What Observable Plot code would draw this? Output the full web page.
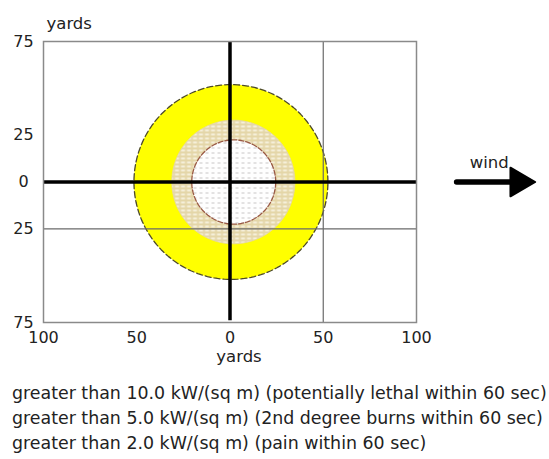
<!DOCTYPE html>
<html>
<head>
<meta charset="utf-8">
<script src="https://cdn.jsdelivr.net/npm/d3@7"></script>
<script src="https://cdn.jsdelivr.net/npm/@observablehq/plot@0.6"></script>
<style>
  html, body { margin: 0; padding: 0; background: #fff; }
  #chart svg { display: block; }
  #legend { font-family: "DejaVu Sans", sans-serif; font-size: 17.4px; color: #222; padding-left: 12px; margin-top: 9px; line-height: 25px; white-space: nowrap; }
</style>
</head>
<body>
<svg width="0" height="0" style="position:absolute">
  <defs>
    <pattern id="tanHatch" patternUnits="userSpaceOnUse" width="6" height="4">
      <rect width="6" height="4" fill="#e4d6a8"></rect>
      <rect x="0.5" y="1.3" width="4" height="1.3" fill="#fffdf5"></rect>
    </pattern>
    <pattern id="innerDots" patternUnits="userSpaceOnUse" width="6" height="5">
      <rect width="6" height="5" fill="#fefefe"></rect>
      <rect x="1" y="2" width="3" height="0.9" fill="#c2c0c0"></rect>
    </pattern>
  </defs>
</svg>
<div id="chart"></div>
<div id="legend"></div>
<script>
// ---- data ----
const zoneNames = ["pain", "burns", "lethal"];          // outer -> inner
const zoneCenterX = [0.5, 1.8, 2];                      // yards (downwind)
const zoneCenterY = [0, 0, 0];                          // yards (crosswind)
const zoneRadius = [52, 33, 22.5];                      // yards
const zoneFill = ["#ffff00", "url(#tanHatch)", "url(#innerDots)"];
const zoneStroke = ["#4d4a2a", "#e4d6a8", "#9a5a45"];
const zoneDash = ["6,3", null, "5,2"];

const xTicks = [-100, -50, 0, 50, 100];
const yTicks = [75, 25, 0, -25, -75];
const gridX = [50];
const gridY = [-25];
const axisX0 = [0];
const axisY0 = [0];

const windLabel = ["wind"];
const windLine = [{x1: 121.5, x2: 154, y: 0}];
const windHead = [{x: 154.8, y: 0}];

const legendLines = [
  "greater than 10.0 kW/(sq m) (potentially lethal within 60 sec)",
  "greater than 5.0 kW/(sq m) (2nd degree burns within 60 sec)",
  "greater than 2.0 kW/(sq m) (pain within 60 sec)"
];

// ---- geometry helper: ring outline from center & radius ----
function ring(i) {
  return d3.range(0, 360, 2).map(a => ({
    x: zoneCenterX[i] + zoneRadius[i] * Math.cos(a * Math.PI / 180),
    y: zoneCenterY[i] + zoneRadius[i] * Math.sin(a * Math.PI / 180)
  }));
}

const zoneMarks = zoneNames.map((n, i) =>
  Plot.line(ring(i), {
    x: "x", y: "y", curve: "linear-closed",
    fill: zoneFill[i], stroke: zoneStroke[i],
    strokeWidth: i === 1 ? 0.8 : 1.3,
    strokeDasharray: zoneDash[i] || undefined
  })
);

const plot = Plot.plot({
  width: 549,
  height: 372,
  marginLeft: 43,
  marginRight: 133,
  marginTop: 41,
  marginBottom: 50,
  x: {domain: [-100, 100]},
  y: {domain: [-75, 75]},
  style: {fontFamily: "DejaVu Sans, sans-serif", fontSize: "16px", color: "#222", background: "#fff"},
  marks: [
    ...zoneMarks,
    Plot.ruleX(gridX, {stroke: "#6a6a6a", strokeWidth: 1.2}),
    Plot.ruleY(gridY, {stroke: "#6a6a6a", strokeWidth: 1.2}),
    Plot.ruleY(axisY0, {stroke: "#000", strokeWidth: 3.5}),
    Plot.ruleX(axisX0, {y1: 75, y2: -74, stroke: "#000", strokeWidth: 3.5}),
    Plot.frame({stroke: "#8a8a8a", strokeWidth: 1.5}),
    Plot.axisX({ticks: xTicks, tickFormat: d => Math.abs(d), tickSize: 0, tickPadding: 9, label: null, fill: "#222"}),
    Plot.axisY({ticks: yTicks, tickFormat: d => Math.abs(d), tickSize: 0, tickPadding: 20, textAnchor: "middle", label: null, fill: "#222"}),
    Plot.text(["yards"], {frameAnchor: "bottom", dx: 9, dy: 39, fontSize: 16.5, fill: "#222"}),
    Plot.text(["yards"], {frameAnchor: "top-left", dx: 3, dy: -24, fontSize: 16.5, fill: "#222"}),
    Plot.link(windLine, {x1: "x1", x2: "x2", y1: "y", y2: "y", stroke: "#000", strokeWidth: 5.5, strokeLinecap: "round"}),
    Plot.dot(windHead, {x: "x", y: "y", symbol: "triangle", r: 10.6, rotate: 90, fill: "#000", stroke: "#000", strokeWidth: 2, strokeLinejoin: "round"}),
    Plot.text(windLabel, {x: () => 139, y: () => 0, dy: -19, fontSize: 16.5, fill: "#222"})
  ]
});
document.getElementById("chart").appendChild(plot);

const legend = document.getElementById("legend");
legendLines.forEach(t => {
  const d = document.createElement("div");
  d.textContent = t;
  legend.appendChild(d);
});
</script>
</body>
</html>
